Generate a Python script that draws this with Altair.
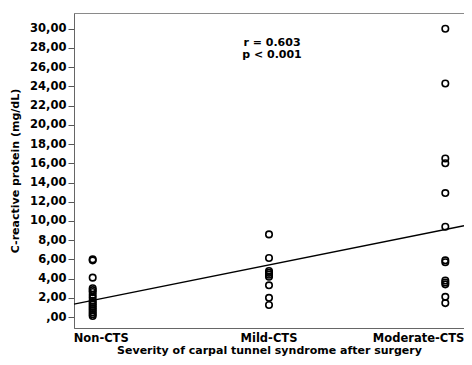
import altair as alt
import pandas as pd

categories = ["Non-CTS", "Mild-CTS", "Moderate-CTS"]
cat_pos = [1, 2, 3]
non_cts = [6.0, 5.9, 4.1, 3.0, 2.8, 2.6, 2.3, 2.0, 1.7, 1.5, 1.3, 1.1, 0.9, 0.7, 0.5, 0.3, 0.1]
mild = [8.6, 6.15, 4.8, 4.6, 4.4, 4.2, 3.3, 2.0, 1.25]
moderate = [30.0, 24.3, 16.5, 16.0, 12.9, 9.4, 5.9, 5.7, 3.8, 3.6, 3.4, 2.1, 1.45]
fit_x = [0.894, 3.106]
fit_y = [1.34, 9.5]
y_ticks = [0, 2, 4, 6, 8, 10, 12, 14, 16, 18, 20, 22, 24, 26, 28, 30]
x_domain = [0.894, 3.106]
y_domain = [-1.14, 31.64]
annotation_lines = ["r = 0.603", "p < 0.001"]

rows = []
for pos, vals in zip(cat_pos, [non_cts, mild, moderate]):
    for v in vals:
        rows.append({"pos": pos, "crp": v})
pts = pd.DataFrame(rows)
fit = pd.DataFrame({"pos": fit_x, "crp": fit_y})

FONT = "DejaVu Sans"
W, H = 390, 315
xs = alt.Scale(domain=x_domain, nice=False, zero=False)
ys = alt.Scale(domain=y_domain, nice=False, zero=False)

x_axis = alt.Axis(
    title="Severity of carpal tunnel syndrome after surgery",
    labels=False, ticks=False, grid=False, domainColor="#666",
    titleFont=FONT, titleFontSize=11, titleFontWeight="bold",
    titleColor="black", titlePadding=16,
)
y_axis = alt.Axis(
    title="C-reactive protein (mg/dL)", values=y_ticks,
    labelExpr="datum.value == 0 ? ',00' : replace(format(datum.value, '.2f'), '.', ',')",
    labelOverlap=False, tickCount=16,
    grid=False, domainColor="#666", tickColor="#555", tickSize=6,
    labelPadding=2, labelFont=FONT, labelFontSize=11.5, labelFontWeight="bold",
    labelColor="black", titleFont=FONT, titleFontSize=11, titleFontWeight="bold",
    titleColor="black", titlePadding=9,
)

points = alt.Chart(pts).mark_point(
    shape="circle", filled=False, color="black", size=42, strokeWidth=1.6, opacity=1
).encode(
    x=alt.X("pos:Q", scale=xs, axis=x_axis),
    y=alt.Y("crp:Q", scale=ys, axis=y_axis),
)

line = alt.Chart(fit).mark_line(color="black", strokeWidth=1.3).encode(
    x=alt.X("pos:Q", scale=xs, axis=x_axis),
    y=alt.Y("crp:Q", scale=ys, axis=y_axis),
)

aligns = ["left", "center", "right"]
offsets = [-19, 0, 19]
label_layers = []
for c, p, a, o in zip(categories, cat_pos, aligns, offsets):
    label_layers.append(
        alt.Chart(pd.DataFrame({"pos": [p], "label": [c]})).mark_text(
            align=a, dx=o, baseline="alphabetic", font=FONT, fontSize=11.5,
            fontWeight="bold", color="black", clip=False,
        ).encode(
            x=alt.X("pos:Q", scale=xs, axis=x_axis),
            y=alt.value(H + 14),
            text="label:N",
        )
    )

annot_layers = []
for t, yy in zip(annotation_lines, [32.5, 44.5]):
    annot_layers.append(
        alt.Chart(pd.DataFrame({"t": [t]})).mark_text(
            align="center", baseline="alphabetic",
            font=FONT, fontSize=11, fontWeight="bold", color="black",
        ).encode(x=alt.value(W / 2 + 3), y=alt.value(yy), text="t:N")
    )

chart = alt.layer(points, line, *label_layers, *annot_layers).properties(
    width=W, height=H,
    padding={"left": 66, "top": 5, "right": 0, "bottom": 28},
    autosize=alt.AutoSizeParams(type="none"),
).configure_view(stroke="#8a8a8a", strokeWidth=1)

chart.save("out.html", embed_options={"renderer": "svg", "actions": False})
